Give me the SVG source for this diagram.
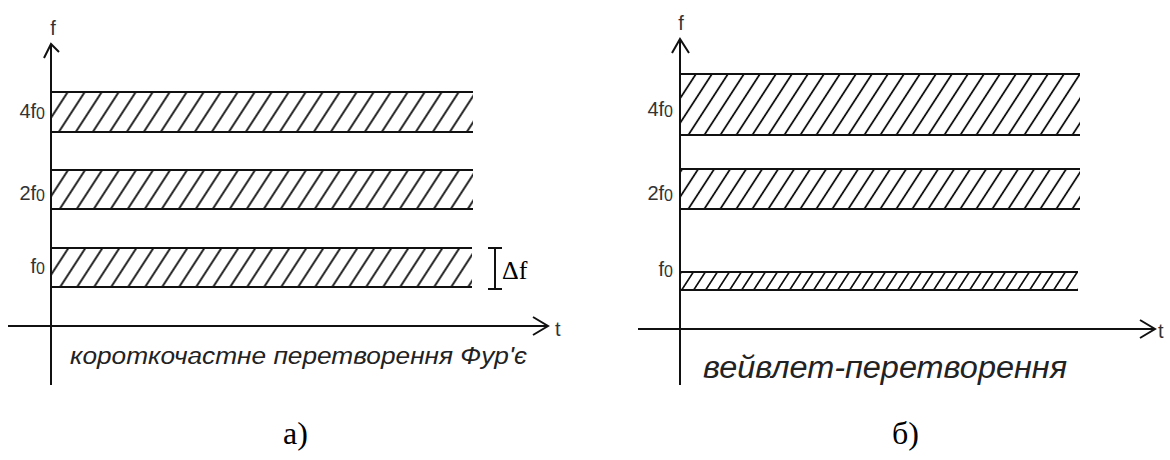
<svg xmlns="http://www.w3.org/2000/svg" width="1170" height="460" viewBox="0 0 1170 460">
<style>
.ax{stroke:#111;stroke-width:2;fill:none}
.bd{stroke:#111;stroke-width:2.2;fill:none}
.lbl{font-family:"Liberation Sans",Arial,sans-serif;font-size:20px;fill:#333}
.sub{font-size:16px}
.cap{font-family:"Liberation Sans",Arial,sans-serif;font-style:italic;fill:#222}
.ser{font-family:"Liberation Serif","Times New Roman",serif;fill:#000}
</style>
<defs>
<pattern id="hatchA" patternUnits="userSpaceOnUse" width="17" height="10" patternTransform="skewX(-33)">
<line x1="8.5" y1="0" x2="8.5" y2="10" stroke="#111" stroke-width="2.2"/>
</pattern>
<pattern id="hatchB" patternUnits="userSpaceOnUse" width="16" height="10" patternTransform="skewX(-33)">
<line x1="8" y1="0" x2="8" y2="10" stroke="#111" stroke-width="2.2"/>
</pattern>
<pattern id="hatchC" patternUnits="userSpaceOnUse" width="12" height="10" patternTransform="skewX(-33)">
<line x1="6" y1="0" x2="6" y2="10" stroke="#111" stroke-width="2"/>
</pattern>
</defs>
<rect width="1170" height="460" fill="#fff"/>

<g id="connectors">
<line class="ax" x1="51" y1="385" x2="51" y2="44"/>
<polyline class="ax" points="44,58 51,44 59,52"/>
<line class="ax" x1="8" y1="326" x2="548" y2="326"/>
<polyline class="ax" points="533,317 548,326 533,335"/>
<line class="ax" x1="680" y1="385" x2="680" y2="39"/>
<polyline class="ax" points="672,53 680,39 689,53"/>
<line class="ax" x1="638" y1="329" x2="1155" y2="329"/>
<polyline class="ax" points="1140,320 1155,329 1140,338"/>
<line class="ax" x1="488" y1="248" x2="502" y2="248"/>
<line class="ax" x1="495" y1="248" x2="495" y2="289"/>
<line class="ax" x1="488" y1="289" x2="502" y2="289"/>
</g>

<g id="panel-a">
<text class="lbl" x="53" y="35" text-anchor="middle">f</text>
<text class="lbl" x="555" y="336">t</text>
<g id="band-a-4f0">
<rect x="51" y="92" width="422" height="40" fill="url(#hatchA)"/>
<line class="bd" x1="51" y1="92" x2="473" y2="92"/>
<line class="bd" x1="51" y1="132" x2="473" y2="132"/>
<text class="lbl" x="45" y="118" text-anchor="end">4f<tspan class="sub" dy="1">0</tspan></text>
</g>
<g id="band-a-2f0">
<rect x="51" y="170" width="422" height="39" fill="url(#hatchA)"/>
<line class="bd" x1="51" y1="170" x2="473" y2="170"/>
<line class="bd" x1="51" y1="209" x2="473" y2="209"/>
<text class="lbl" x="45" y="200" text-anchor="end">2f<tspan class="sub" dy="1">0</tspan></text>
</g>
<g id="band-a-f0">
<rect x="51" y="248" width="421" height="39" fill="url(#hatchA)"/>
<line class="bd" x1="51" y1="248" x2="472" y2="248"/>
<line class="bd" x1="51" y1="287" x2="472" y2="287"/>
<text class="lbl" x="45" y="273" text-anchor="end">f<tspan class="sub" dy="1">0</tspan></text>
</g>
<text class="ser" x="502" y="279" font-size="26">Δf</text>
<text class="cap" x="70" y="364" font-size="23" textLength="457" lengthAdjust="spacingAndGlyphs">короткочастне перетворення Фур'є</text>
<text class="ser" x="283" y="444" font-size="32">а)</text>
</g>

<g id="panel-b">
<text class="lbl" x="681" y="30" text-anchor="middle">f</text>
<text class="lbl" x="1158" y="338">t</text>
<g id="band-b-4f0">
<rect x="680" y="74" width="400" height="61" fill="url(#hatchB)"/>
<line class="bd" x1="680" y1="74" x2="1080" y2="74"/>
<line class="bd" x1="680" y1="135" x2="1080" y2="135"/>
<text class="lbl" x="673" y="116" text-anchor="end">4f<tspan class="sub" dy="1">0</tspan></text>
</g>
<g id="band-b-2f0">
<rect x="680" y="169" width="400" height="40" fill="url(#hatchB)"/>
<line class="bd" x1="680" y1="169" x2="1080" y2="169"/>
<line class="bd" x1="680" y1="209" x2="1080" y2="209"/>
<text class="lbl" x="673" y="200" text-anchor="end">2f<tspan class="sub" dy="1">0</tspan></text>
</g>
<g id="band-b-f0">
<rect x="680" y="272" width="398" height="18" fill="url(#hatchC)"/>
<line class="bd" x1="680" y1="272" x2="1078" y2="272"/>
<line class="bd" x1="680" y1="290" x2="1078" y2="290"/>
<text class="lbl" x="673" y="276" text-anchor="end">f<tspan class="sub" dy="1">0</tspan></text>
</g>
<text class="cap" x="703" y="378" font-size="31" textLength="364" lengthAdjust="spacingAndGlyphs">вейвлет-перетворення</text>
<text class="ser" x="892" y="444" font-size="32">б)</text>
</g>
</svg>
